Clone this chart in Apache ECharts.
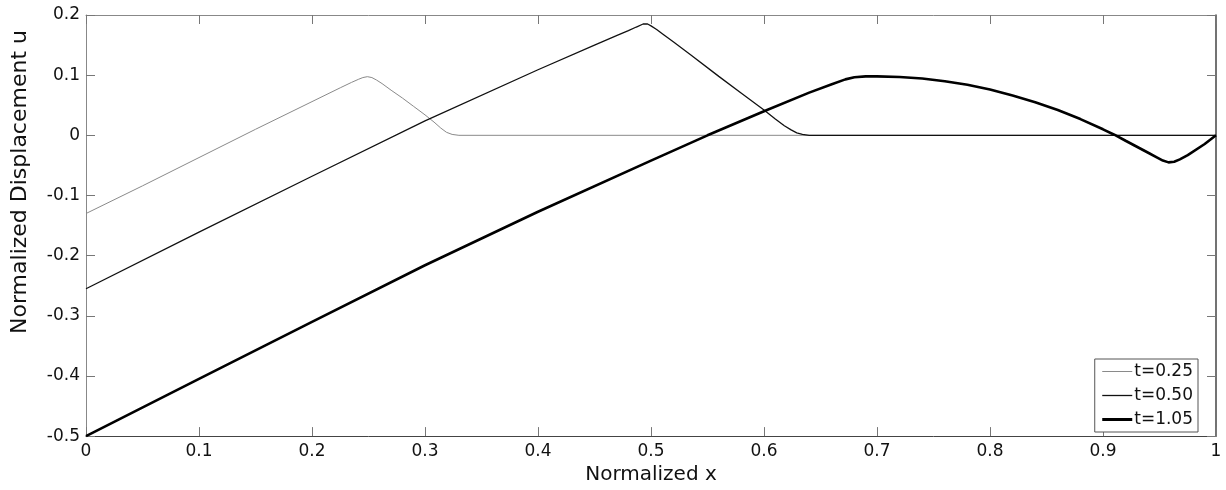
<!DOCTYPE html>
<html>
<head>
<meta charset="utf-8">
<script src="https://cdn.jsdelivr.net/npm/echarts@6/dist/echarts.min.js"></script>
<style>
html,body{margin:0;padding:0;background:#fff;}
#chart{width:1226px;height:490px;}
</style>
</head>
<body>
<div id="chart"></div>
<script>
// ---- data ----
const seriesNames = ['t=0.25', 't=0.50', 't=1.05'];

const x025 = [0, 0.05, 0.1, 0.15, 0.2, 0.225, 0.235, 0.241, 0.245, 0.249, 0.253, 0.257, 0.262, 0.27, 0.28, 0.29, 0.30, 0.308, 0.314, 0.319, 0.324, 0.33, 0.5, 0.75, 1];
const u025 = [-0.13, -0.084, -0.037, 0.010, 0.056, 0.079, 0.088, 0.093, 0.096, 0.0975, 0.096, 0.092, 0.086, 0.075, 0.062, 0.048, 0.034, 0.022, 0.012, 0.005, 0.0015, 0, 0, 0, 0];

const x050 = [0, 0.1, 0.2, 0.3, 0.4, 0.45, 0.47, 0.48, 0.487, 0.493, 0.497, 0.50, 0.505, 0.51, 0.52, 0.535, 0.56, 0.58, 0.60, 0.61, 0.618, 0.624, 0.629, 0.634, 0.64, 0.7, 0.85, 1];
const u050 = [-0.255, -0.161, -0.068, 0.024, 0.109, 0.150, 0.166, 0.174, 0.180, 0.185, 0.185, 0.182, 0.176, 0.169, 0.155, 0.134, 0.098, 0.070, 0.042, 0.027, 0.016, 0.009, 0.004, 0.0015, 0, 0, 0, 0];

const x105 = [0, 0.1, 0.2, 0.3, 0.4, 0.5, 0.55, 0.6, 0.64, 0.66, 0.672, 0.68, 0.69, 0.70, 0.72, 0.74, 0.76, 0.78, 0.80, 0.82, 0.84, 0.86, 0.88, 0.90, 0.91, 0.92, 0.93, 0.94, 0.948, 0.953, 0.958, 0.963, 0.968, 0.975, 0.99, 1.0];
const u105 = [-0.5, -0.405, -0.31, -0.216, -0.127, -0.042, 0.0, 0.040, 0.071, 0.085, 0.093, 0.0965, 0.098, 0.098, 0.097, 0.0945, 0.090, 0.084, 0.076, 0.066, 0.055, 0.042, 0.027, 0.010, 0.001, -0.009, -0.019, -0.029, -0.037, -0.042, -0.045, -0.044, -0.040, -0.033, -0.0145, 0.0];

const xTicks = [0, 0.1, 0.2, 0.3, 0.4, 0.5, 0.6, 0.7, 0.8, 0.9, 1];
const yTicks = [-0.5, -0.4, -0.3, -0.2, -0.1, 0, 0.1, 0.2];

const xTitle = 'Normalized x';
const yTitle = 'Normalized Displacement u';
// --------------------------------------

function pairs(xs, ys) { return xs.map((x, i) => [x, ys[i]]); }
function fmt(v) { const r = Math.round(v * 10) / 10; return r === 0 ? '0' : String(r); }

const FONT = 'DejaVu Sans';
const chart = echarts.init(document.getElementById('chart'), null, { renderer: 'canvas' });

const commonTick = { show: true, inside: true, length: 9, lineStyle: { color: '#777', width: 1 } };
const lineColors = ['#8a8a8a', '#111', '#000'];
const lineWidths = [1, 1.3, 2.6];

chart.setOption({
  animation: false,
  backgroundColor: '#ffffff',
  grid: { left: 86, right: 10, top: 15, bottom: 46, containLabel: false },
  xAxis: [
    {
      type: 'value', min: xTicks[0], max: xTicks[xTicks.length - 1], interval: 0.1, position: 'bottom',
      axisLine: { show: true, onZero: false, lineStyle: { color: '#444', width: 1 } },
      axisTick: commonTick,
      splitLine: { show: false },
      axisLabel: { show: true, margin: 7, color: '#111', fontFamily: FONT, fontSize: 17, formatter: fmt },
      name: xTitle, nameLocation: 'middle', nameGap: 22,
      nameTextStyle: { color: '#111', fontFamily: FONT, fontSize: 20, verticalAlign: 'top' }
    },
    {
      type: 'value', min: 0, max: 1, interval: 0.1, position: 'top',
      axisLine: { show: true, onZero: false, lineStyle: { color: '#888', width: 1 } },
      axisTick: commonTick,
      splitLine: { show: false },
      axisLabel: { show: false }
    }
  ],
  yAxis: [
    {
      type: 'value', min: yTicks[0], max: yTicks[yTicks.length - 1], interval: 0.1, position: 'left',
      axisLine: { show: true, onZero: false, lineStyle: { color: '#888', width: 1 } },
      axisTick: commonTick,
      splitLine: { show: false },
      axisLabel: { show: true, margin: 6, color: '#111', fontFamily: FONT, fontSize: 17, formatter: fmt }
    },
    {
      type: 'value', min: -0.5, max: 0.2, interval: 0.1, position: 'right',
      axisLine: { show: true, onZero: false, lineStyle: { color: '#444', width: 1.5 } },
      axisTick: commonTick,
      splitLine: { show: false },
      axisLabel: { show: false }
    }
  ],
  legend: {
    data: seriesNames.map((n, i) => ({ name: n, lineStyle: { color: lineColors[i], width: i === 2 ? 3 : lineWidths[i] } })),
    orient: 'vertical',
    right: 28, top: 359,
    itemWidth: 30, itemHeight: 15, itemGap: 7,
    padding: [4, 5, 4, 6],
    borderColor: '#555', borderWidth: 1, backgroundColor: '#fff',
    itemStyle: { opacity: 0 },
    textStyle: { color: '#111', fontFamily: FONT, fontSize: 17, padding: [0, 0, 0, -3] }
  },
  graphic: [
    {
      type: 'text', x: 20, y: 182, rotation: Math.PI / 2,
      style: { text: yTitle, fill: '#111', font: '22px "' + FONT + '"', align: 'center', verticalAlign: 'middle' }
    }
  ],
  series: seriesNames.map((n, i) => ({
    name: n, type: 'line',
    data: [pairs(x025, u025), pairs(x050, u050), pairs(x105, u105)][i],
    showSymbol: false, symbol: 'none', smooth: false, z: 3 + i,
    lineStyle: { color: lineColors[i], width: lineWidths[i] },
    itemStyle: { color: lineColors[i] }
  }))
});
</script>
</body>
</html>
